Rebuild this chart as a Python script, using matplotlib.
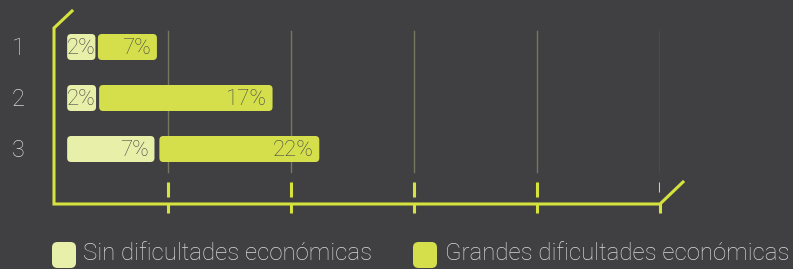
import matplotlib
matplotlib.use("Agg")
import matplotlib.pyplot as plt
from matplotlib.patches import FancyBboxPatch

# data
categories = ["1", "2", "3"]
series_names = ["Sin dificultades económicas", "Grandes dificultades económicas"]
sin_labels = ["2%", "2%", "7%"]
grandes_labels = ["7%", "17%", "22%"]
# segment extents as drawn (grid step = 10 units)
sin_start = [1.8, 1.8, 1.8]
sin_end = [4.1, 4.15, 8.9]
grandes_start = [4.3, 4.4, 9.3]
grandes_end = [9.1, 18.5, 22.3]
grid_ticks = [10, 20, 30, 40, 50]

BG = "#404042"
AXIS = "#d6e23e"
LIGHT = "#e8efa9"
DARK = "#d4df4b"
GRID = "#76775c"
TXT_DARK = "#4a4a4a"
TXT_LIGHT = "#d9d9d9"
FONT = "Roboto"

W, H = 793, 269
fig = plt.figure(figsize=(W / 100, H / 100), dpi=100, facecolor=BG)

# axes box: x pixels 54..660, y pixels 28..203
x0, x1 = 54, 660
y0, y1 = 28, 203
ax = fig.add_axes([x0 / W, 1 - y1 / H, (x1 - x0) / W, (y1 - y0) / H])
ax.set_facecolor(BG)
px_per_x = 12.3      # pixels per x unit
px_per_y = 51.0      # pixels per category
ax.set_xlim((x0 - 45) / px_per_x, (x1 - 45) / px_per_x)
ax.set_ylim((y1 - 47) / px_per_y, (y0 - 47) / px_per_y)
for s in ax.spines.values():
    s.set_visible(False)
ax.set_xticks([])
ax.set_yticks([])

aspect = px_per_x / px_per_y
bar_h = 26 / px_per_y
rad = 4 / px_per_x

# gridlines and dashed ticks
g_top, g_bot = (31 - 47) / px_per_y, (172 - 47) / px_per_y
t_a, t_b = (182 - 47) / px_per_y, (197 - 47) / px_per_y
t_last = (192 - 47) / px_per_y
t_c, t_d = (203 - 47) / px_per_y, (213 - 47) / px_per_y
for i, g in enumerate(grid_ticks):
    ax.plot([g, g], [g_top, g_bot], color=GRID, lw=1.0, zorder=1)
    end = t_last if i == len(grid_ticks) - 1 else t_b
    ax.plot([g, g], [t_a, end], color=AXIS, lw=2.2, solid_capstyle="butt", zorder=2)
    ax.plot([g, g], [t_c, t_d], color=AXIS, lw=2.2, solid_capstyle="butt", zorder=2, clip_on=False)

# bars
for i in range(len(categories)):
    for start, end, lab, col in [(sin_start[i], sin_end[i], sin_labels[i], LIGHT),
                                 (grandes_start[i], grandes_end[i], grandes_labels[i], DARK)]:
        p = FancyBboxPatch((start, i - bar_h / 2), end - start, bar_h,
                           boxstyle=f"round,pad=0,rounding_size={rad}",
                           mutation_aspect=aspect, fc=col, ec="none", zorder=3)
        ax.add_patch(p)
        if (end - start) * px_per_x < 35:
            # narrow segment: label fills it from the left
            ax.text(start - 0.5 / px_per_x, i + 0.03, lab, ha="left", va="center", color=TXT_DARK,
                    fontsize=16, family=FONT, fontweight="light", zorder=4)
        else:
            ax.text(end - 6 / px_per_x, i + 0.03, lab, ha="right", va="center", color=TXT_DARK,
                    fontsize=16, family=FONT, fontweight="light", zorder=4)
    ax.text((18 - 45) / px_per_x, i + 0.03, categories[i], ha="center", va="center",
            color=TXT_LIGHT, fontsize=17, family=FONT, fontweight="light", clip_on=False)

# axis lines with diagonal ends (figure pixel coords)
def fx(px):
    return px / W

def fy(py):
    return 1 - py / H

fig.add_artist(plt.Line2D([fx(72), fx(54), fx(54), fx(660), fx(683)],
                          [fy(11), fy(28), fy(204), fy(204), fy(182)],
                          color=AXIS, lw=2.2, solid_joinstyle="miter"))

# legend
leg = [(52, 83, LIGHT, series_names[0]), (413, 445, DARK, series_names[1])]
for mx, tx, col, name in leg:
    fig.add_artist(FancyBboxPatch((fx(mx), fy(268)), 24 / W, 26 / H,
                                  boxstyle="round,pad=0,rounding_size=0.007",
                                  mutation_aspect=W / H, fc=col, ec="none",
                                  transform=fig.transFigure))
    fig.text(fx(tx), fy(254), name, ha="left", va="center", color=TXT_LIGHT,
             fontsize=17.3, family=FONT, fontweight="light")

fig.savefig("out.png", dpi=100, facecolor=BG)
